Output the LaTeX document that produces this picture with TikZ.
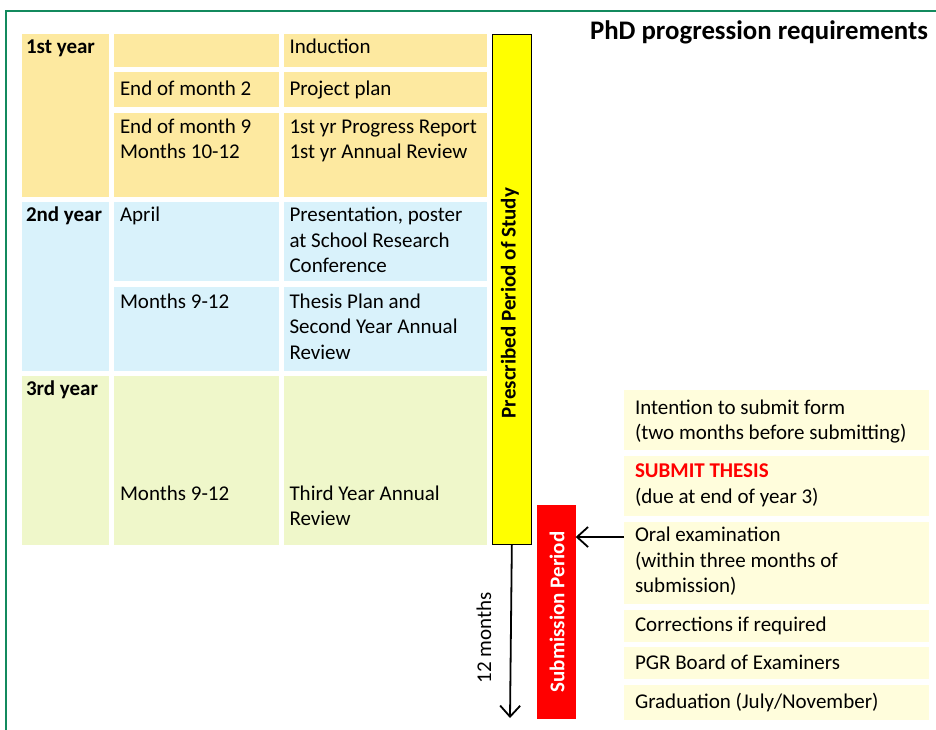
\documentclass[tikz,border=0pt]{standalone}
\usepackage{fontspec}
\setmainfont{Carlito}
\usetikzlibrary{arrows.meta}

\definecolor{frame}{HTML}{138A5E}
\definecolor{yearone}{HTML}{FDE9A0}
\definecolor{yeartwo}{HTML}{D9F2FB}
\definecolor{yearthree}{HTML}{EFF7CA}
\definecolor{stepfill}{HTML}{FFFDDC}
\definecolor{barfill}{HTML}{FFFF00}
\definecolor{subred}{HTML}{FF0000}

\tikzset{
  tcell/.style={rectangle, inner sep=0pt, outer sep=0pt, draw=none},
  txt/.style={inner sep=0pt, outer sep=0pt,
    font=\fontsize{21}{25.5}\selectfont},
  btxt/.style={txt, font=\fontsize{21}{25.5}\selectfont\bfseries},
  arr/.style={line width=1.8pt, -{Straight Barb[length=11pt,width=20pt,line width=1.8pt]}},
}

% a filled table cell given by its corners
\newcommand\tcell[6]{\node[tcell, fill=#2, minimum width={#5-#3}, minimum height={#6-#4}]
  (#1) at ({(#3+#5)/2},{(#4+#6)/2}) {};}
% stacked lines whose baseline is that of the first line
\newcommand\twol[2]{\vtop{\hbox{#1}\hbox{#2}}}
\newcommand\threel[3]{\vtop{\hbox{#1}\hbox{#2}\hbox{#3}}}

\begin{document}
\begin{tikzpicture}[x=1pt,y=-1pt]
\useasboundingbox (0,0) rectangle (936,729);

% outer frame (runs off the page to the right and bottom)
\draw[frame, line width=2.6pt] (6,740) -- (6,11) -- (945,11);

% title
\node[txt, font=\fontsize{26.8}{30}\selectfont\bfseries, anchor=base east] (title) at (928,39) {PhD progression requirements};

% ---- 1st year
\tcell{y1}{yearone}{22}{34}{108.7}{196.7}
\tcell{y1a}{yearone}{114}{34}{278.7}{66.7}
\tcell{y1b}{yearone}{114}{72}{278.7}{107.3}
\tcell{y1c}{yearone}{114}{112.7}{278.7}{196.7}
\tcell{y1d}{yearone}{284}{34}{486.7}{66.7}
\tcell{y1e}{yearone}{284}{72}{486.7}{107.3}
\tcell{y1f}{yearone}{284}{112.7}{486.7}{196.7}

% ---- 2nd year
\tcell{y2}{yeartwo}{22}{202}{108.7}{370.7}
\tcell{y2a}{yeartwo}{114}{202}{278.7}{280.7}
\tcell{y2b}{yeartwo}{114}{286.7}{278.7}{370.7}
\tcell{y2c}{yeartwo}{284}{202}{486.7}{280.7}
\tcell{y2d}{yeartwo}{284}{286.7}{486.7}{370.7}

% ---- 3rd year
\tcell{y3}{yearthree}{22}{376}{108.7}{544.7}
\tcell{y3a}{yearthree}{114}{376}{278.7}{544.7}
\tcell{y3b}{yearthree}{284}{376}{486.7}{544.7}

% table texts
\node[btxt, anchor=base west] (l1) at (26,53) {1st year};
\node[btxt, anchor=base west] (l2) at (26,221.7) {2nd year};
\node[btxt, anchor=base west] (l3) at (26,395) {3rd year};

\node[txt, anchor=base west] (w1) at (120,95) {End of month 2};
\node[txt, anchor=base west] (w2) at (120,133) {\twol{End of month 9}{Months 10-12}};
\node[txt, anchor=base west] (w3) at (120,221.7) {April};
\node[txt, anchor=base west] (w4) at (120,308.3) {Months 9-12};
\node[txt, anchor=base west] (w5) at (120,500) {Months 9-12};

\node[txt, anchor=base west] (e1) at (289.5,53) {Induction};
\node[txt, anchor=base west] (e2) at (289.5,95) {Project plan};
\node[txt, anchor=base west] (e3) at (289.5,133) {\twol{1st yr Progress Report}{1st yr Annual Review}};
\node[txt, anchor=base west] (e4) at (289.5,221.7) {\threel{Presentation, poster}{at School Research}{Conference}};
\node[txt, anchor=base west] (e5) at (289.5,308.3) {\threel{Thesis Plan and}{Second Year Annual}{Review}};
\node[txt, anchor=base west] (e6) at (289.5,500) {\twol{Third Year Annual}{Review}};

% prescribed period bar
\node[tcell, draw=black, line width=1pt, fill=barfill, minimum width=39.7pt, minimum height=510.3pt]
  (bar) at (511.85,289.15) {};
\node[btxt, rotate=90] (bartxt) at (510,303) {Prescribed Period of Study};

% submission period
\node[tcell, fill=subred, minimum width=38.4pt, minimum height=214pt] (sub) at (556.5,612) {};
\node[btxt, text=white, rotate=90] (subtxt) at (557,612) {Submission Period};

\coordinate (end12) at (510,718);
\draw[arr] (bar.south) -- (end12);
\node[txt, rotate=90] (twelve) at (484,638) {12 months};

% right-hand steps
\tcell{s1}{stepfill}{624}{390}{929}{450}
\tcell{s2}{stepfill}{624}{456}{929}{516}
\tcell{s3}{stepfill}{624}{522}{929}{604}
\tcell{s4}{stepfill}{624}{610}{929}{641.7}
\tcell{s5}{stepfill}{624}{646.7}{929}{679}
\tcell{s6}{stepfill}{624}{685}{929}{720}

\node[txt, anchor=base west] (st1) at (635,414) {\twol{Intention to submit form}{(two months before submitting)}};
\node[txt, anchor=base west] (st2) at (635,477.7) {\twol{\textcolor{subred}{\bfseries SUBMIT THESIS}}{(due at end of year 3)}};
\node[txt, anchor=base west] (st3) at (635,541.7) {\threel{Oral examination}{(within three months of}{submission)}};
\node[txt, anchor=base west] (st4) at (635,631.7) {Corrections if required};
\node[txt, anchor=base west] (st5) at (635,669.3) {PGR Board of Examiners};
\node[txt, anchor=base west] (st6) at (635,708.3) {Graduation (July/November)};

% oral examination points back to the submission period
\coordinate (oa) at ([yshift=-15pt]s3.north west);
\draw[arr] (oa) -- (oa -| sub.east);
\end{tikzpicture}
\end{document}
